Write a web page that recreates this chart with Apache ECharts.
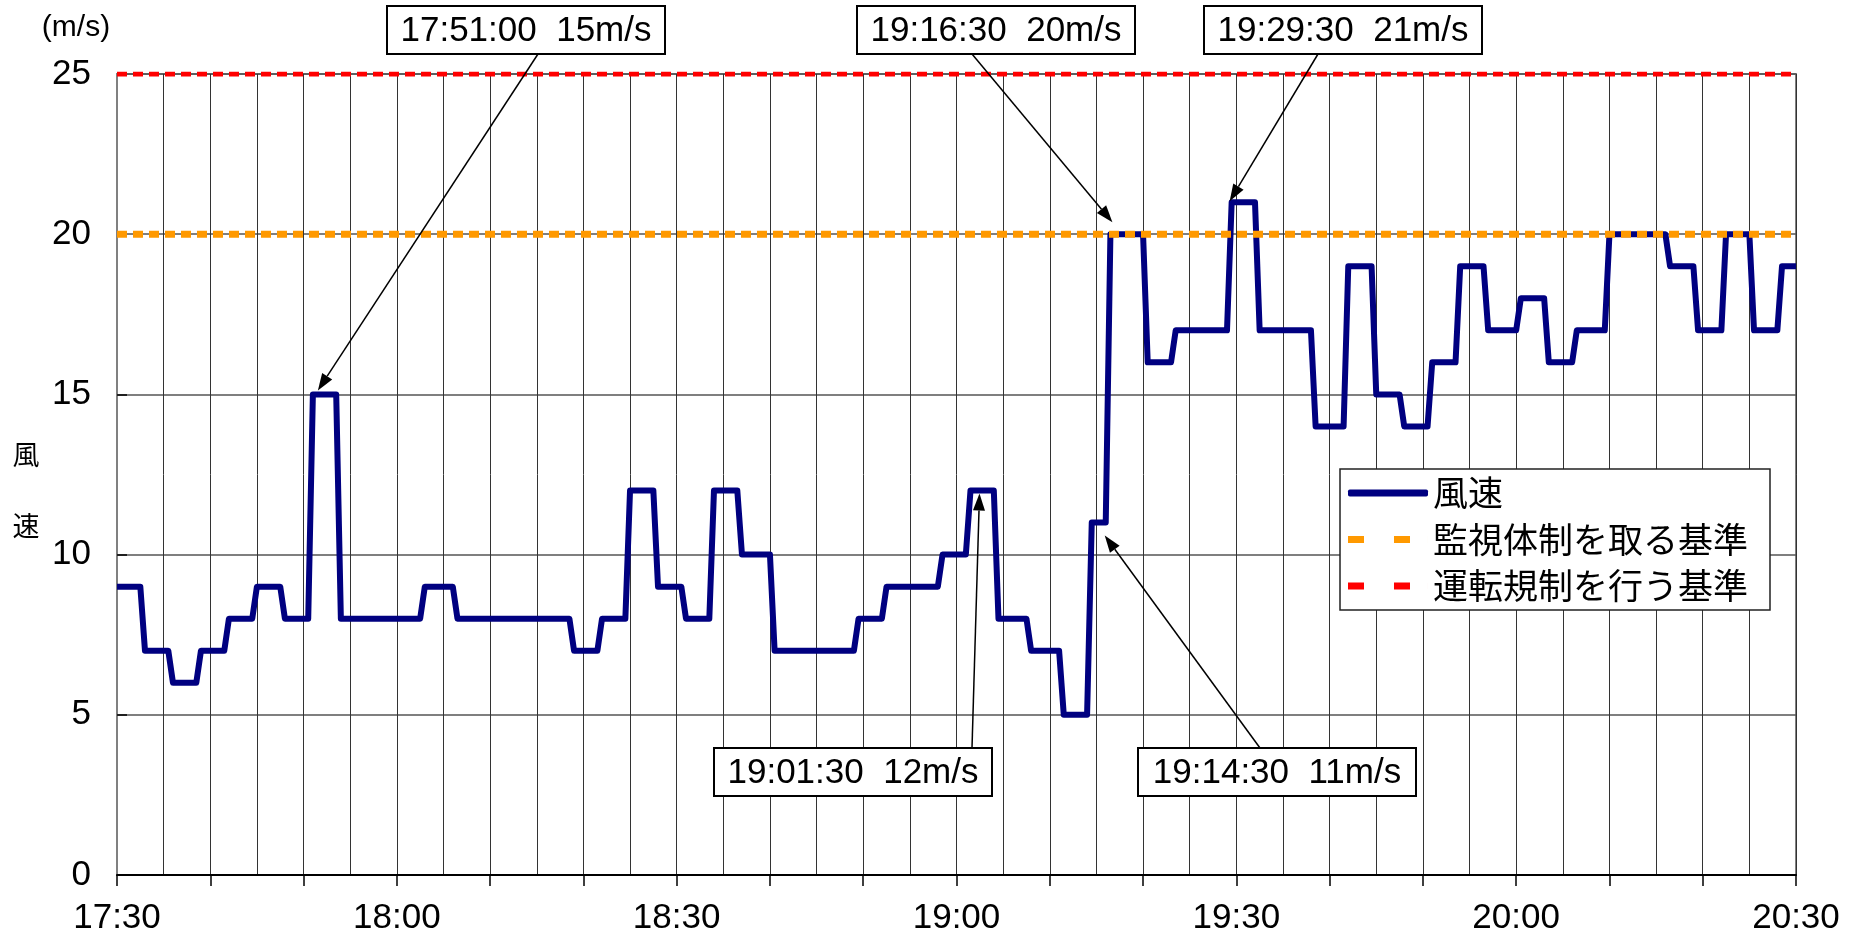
<!DOCTYPE html>
<html>
<head>
<meta charset="utf-8">
<script src="https://cdn.jsdelivr.net/npm/echarts@6/dist/echarts.min.js"></script>
<style>
  html, body { margin: 0; padding: 0; background: #fff; }
  #chart { width: 1854px; height: 945px; }
</style>
</head>
<body>
<div id="chart"></div>
<script>
// Wind speed plateaus: each entry holds from start to end time at one speed (m/s).
const stepStart = [
  '17:30:00','17:33:00','17:36:00','17:39:00','17:42:00','17:45:00','17:48:00','17:51:00',
  '17:54:00','18:03:00','18:06:30','18:19:00','18:22:00','18:25:00','18:28:00','18:31:00',
  '18:34:00','18:37:00','18:40:30','18:49:30','18:52:30','18:58:30','19:01:30','19:04:30',
  '19:08:00','19:11:30','19:14:30','19:16:30','19:20:30','19:23:30','19:29:30','19:32:30',
  '19:38:30','19:42:00','19:45:00','19:48:00','19:51:00','19:54:00','19:57:00','20:00:30',
  '20:03:30','20:06:30','20:10:00','20:16:30','20:19:30','20:22:30','20:25:30','20:28:30'
];
const stepEnd = [
  '17:32:30','17:35:30','17:38:30','17:41:30','17:44:30','17:47:30','17:50:30','17:53:30',
  '18:02:30','18:06:00','18:18:30','18:21:30','18:24:30','18:27:30','18:30:30','18:33:30',
  '18:36:30','18:40:00','18:49:00','18:52:00','18:58:00','19:01:00','19:04:00','19:07:30',
  '19:11:00','19:14:00','19:16:00','19:20:00','19:23:00','19:29:00','19:32:00','19:38:00',
  '19:41:30','19:44:30','19:47:30','19:50:30','19:53:30','19:56:30','20:00:00','20:03:00',
  '20:06:00','20:09:30','20:16:00','20:19:00','20:22:00','20:25:00','20:28:00','20:30:00'
];
const stepSpeed = [
  9, 7, 6, 7, 8, 9, 8, 15,
  8, 9, 8, 7, 8, 12, 9, 8,
  12, 10, 7, 8, 9, 10, 12, 8,
  7, 5, 11, 20, 16, 17, 21, 17,
  14, 19, 15, 14, 16, 19, 17, 18,
  16, 17, 20, 19, 17, 20, 17, 19
];

const xTickLabels = ['17:30', '18:00', '18:30', '19:00', '19:30', '20:00', '20:30'];
const seriesNames = ['風速', '監視体制を取る基準', '運転規制を行う基準'];
const monitorLevel = 20;   // 監視体制を取る基準
const stopLevel = 25;      // 運転規制を行う基準

// Called-out readings
const noteTimes = ['17:51:00', '19:01:30', '19:14:30', '19:16:30', '19:29:30'];
const noteSpeeds = [15, 12, 11, 20, 21];

// Placement of the call-out boxes and where each arrow leaves its box (pixels)
const noteLayout = [
  { box: [526, 30],   tail: [538, 54],   tipShift: [5, -4] },
  { box: [853, 772],  tail: [972, 748],  tipShift: [9, 3] },
  { box: [1277, 772], tail: [1260, 748], tipShift: [13, 13] },
  { box: [996, 30],   tail: [972, 54],   tipShift: [2, -12] },
  { box: [1343, 30],  tail: [1318, 54],  tipShift: [-2, -1] }
];

const NUM_FONT = '"Liberation Sans Narrow", "Liberation Sans", Arial, sans-serif';
const CJK_FONT = '"Noto Sans CJK JP", "Noto Sans", sans-serif';

function hms(s) {
  const p = s.split(':').map(Number);
  return p[0] * 60 + p[1] + (p[2] || 0) / 60;
}
const origin = hms(xTickLabels[0]);
const toMin = s => hms(s) - origin;
const spanMin = hms(xTickLabels[xTickLabels.length - 1]) - origin;

// Line vertices: start and end of every plateau
const windData = [];
stepSpeed.forEach((v, i) => {
  windData.push([toMin(stepStart[i]), v]);
  if (stepEnd[i] !== stepStart[i]) windData.push([toMin(stepEnd[i]), v]);
});

const chart = echarts.init(document.getElementById('chart'));

chart.setOption({
  animation: false,
  backgroundColor: '#fff',
  grid: {
    left: 117, right: 58, top: 74, bottom: 70,
    show: true, borderColor: '#808080', borderWidth: 2, backgroundColor: 'transparent'
  },
  xAxis: {
    type: 'value', min: 0, max: spanMin, interval: 10,
    axisLine: { show: true, onZero: false, lineStyle: { color: '#000', width: 2 } },
    axisTick: { show: true, inside: false, length: 11, lineStyle: { color: '#000', width: 1.5 } },
    axisLabel: {
      fontSize: 35, color: '#000', fontFamily: NUM_FONT, margin: 26,
      showMinLabel: true, showMaxLabel: true,
      formatter: v => (Math.round(v) % 30 === 0 ? xTickLabels[Math.round(v) / 30] : '')
    },
    splitLine: { show: true, lineStyle: { color: '#333', width: 1 } },
    minorTick: { show: true, splitNumber: 2, length: 0 },
    minorSplitLine: { show: true, lineStyle: { color: '#333', width: 1 } }
  },
  yAxis: {
    type: 'value', min: 0, max: 25, interval: 5,
    axisLine: { show: true, lineStyle: { color: '#808080', width: 2 } },
    axisTick: { show: true, inside: true, length: 10, lineStyle: { color: '#000', width: 1.5 } },
    axisLabel: { fontSize: 35, color: '#000', fontFamily: NUM_FONT, margin: 26 },
    splitLine: { show: true, lineStyle: { color: '#555', width: 1.5 } }
  },
  legend: {
    orient: 'vertical', left: 1340, top: 469,
    padding: [4, 22, 4, 8], itemGap: 6.5, itemWidth: 80, itemHeight: 7,
    backgroundColor: '#fff', borderColor: '#222', borderWidth: 1.5,
    selectedMode: false,
    textStyle: { fontSize: 35, fontFamily: CJK_FONT, color: '#000', lineHeight: 40 },
    data: [
      { name: seriesNames[0], icon: 'roundRect', itemStyle: { color: '#000080', borderWidth: 0 } },
      { name: seriesNames[1], icon: 'path://M0,0h16v7h-16zM46,0h16v7h-16zM80,0h0.01v7h-0.01z', itemStyle: { color: '#FF9900', borderWidth: 0 } },
      { name: seriesNames[2], icon: 'path://M0,0h16v7h-16zM46,0h16v7h-16zM80,0h0.01v7h-0.01z', itemStyle: { color: '#FF0000', borderWidth: 0 } }
    ]
  },
  series: [
    {
      name: seriesNames[0], type: 'line', data: windData,
      showSymbol: false, symbol: 'none', color: '#000080',
      lineStyle: { color: '#000080', width: 6, join: 'round' }, z: 2
    },
    {
      name: seriesNames[1], type: 'line', data: [[0, monitorLevel], [spanMin, monitorLevel]],
      showSymbol: false, symbol: 'none', color: '#FF9900',
      lineStyle: { color: '#FF9900', width: 7, type: [10, 6] }, z: 3
    },
    {
      name: seriesNames[2], type: 'line', data: [[0, stopLevel], [spanMin, stopLevel]],
      showSymbol: false, symbol: 'none', color: '#FF0000',
      lineStyle: { color: '#FF0000', width: 5, type: [10, 6] }, z: 3
    }
  ]
});

// Axis captions and the call-outs with arrows
const elements = [
  { type: 'text', x: 76, y: 28, z: 50,
    style: { text: '(m/s)', fontSize: 30, fontFamily: NUM_FONT, fill: '#000',
             align: 'center', verticalAlign: 'middle', textAlign: 'center', textVerticalAlign: 'middle' } },
  { type: 'text', x: 26, y: 490, z: 50,
    style: { text: '風\n速', fontSize: 27, lineHeight: 71, fontFamily: CJK_FONT, fill: '#000',
             align: 'center', verticalAlign: 'middle', textAlign: 'center', textVerticalAlign: 'middle' } }
];

noteTimes.forEach((t, i) => {
  const L = noteLayout[i];
  const p = chart.convertToPixel({ gridIndex: 0 }, [toMin(t), noteSpeeds[i]]);
  const tip = [p[0] + L.tipShift[0], p[1] + L.tipShift[1]];
  const dx = tip[0] - L.tail[0], dy = tip[1] - L.tail[1];
  const len = Math.hypot(dx, dy), ux = dx / len, uy = dy / len;
  const headLen = 17, headHalf = 6;
  const base = [tip[0] - ux * headLen, tip[1] - uy * headLen];
  elements.push({ type: 'line', z: 100,
    shape: { x1: L.tail[0], y1: L.tail[1], x2: base[0], y2: base[1] },
    style: { stroke: '#000', lineWidth: 1.5 } });
  elements.push({ type: 'polygon', z: 100,
    shape: { points: [tip, [base[0] - uy * headHalf, base[1] + ux * headHalf], [base[0] + uy * headHalf, base[1] - ux * headHalf]] },
    style: { fill: '#000' } });
  elements.push({ type: 'rect', z: 101,
    shape: { x: L.box[0] - 139, y: L.box[1] - 24, width: 278, height: 48 },
    style: { fill: '#fff', stroke: '#000', lineWidth: 2 } });
  elements.push({ type: 'text', x: L.box[0], y: L.box[1] + 1, z: 102,
    style: { text: t + '  ' + noteSpeeds[i] + 'm/s', fontSize: 35, fontFamily: NUM_FONT, fill: '#000',
             align: 'center', verticalAlign: 'middle', textAlign: 'center', textVerticalAlign: 'middle' } });
});

chart.setOption({ graphic: { elements } });
</script>
</body>
</html>
